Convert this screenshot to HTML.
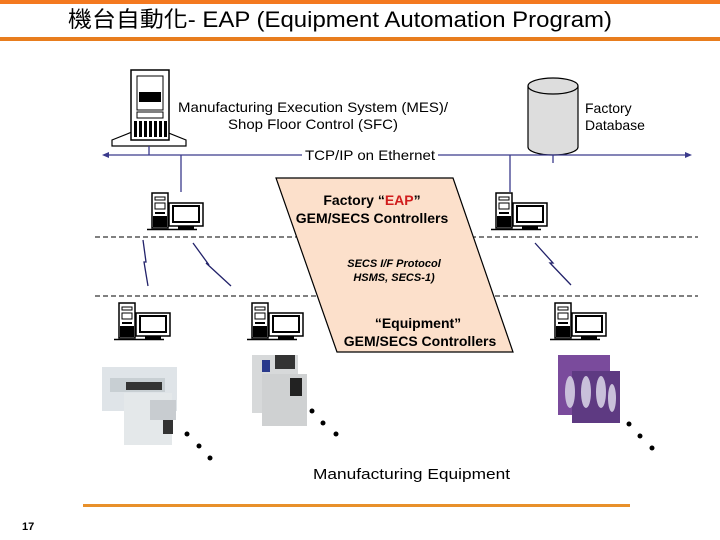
<!DOCTYPE html>
<html><head><meta charset="utf-8"><style>
html,body{margin:0;padding:0;background:#fff}
svg{display:block}
text{font-family:"Liberation Sans","Noto Sans CJK TC",sans-serif}
</style></head><body>
<svg width="720" height="540" viewBox="0 0 720 540" xmlns="http://www.w3.org/2000/svg">
<defs>
<g id="pc">
 <rect x="0" y="0" width="16" height="35" fill="#fff" stroke="#000" stroke-width="1.5"/>
 <rect x="3" y="4" width="10" height="3" fill="none" stroke="#000"/>
 <rect x="3" y="10" width="10" height="6" fill="none" stroke="#000"/>
 <rect x="3" y="19" width="10" height="2" fill="#000"/>
 <rect x="1" y="23" width="14" height="11" fill="#000"/>
 <rect x="17" y="10" width="34" height="23" fill="#fff" stroke="#000" stroke-width="1.5"/>
 <rect x="21" y="13" width="26" height="16" fill="#fff" stroke="#000" stroke-width="2"/>
 <rect x="26" y="33" width="16" height="3" fill="#000"/>
 <line x1="-5" y1="36.5" x2="45" y2="36.5" stroke="#000" stroke-width="1.5"/>
</g>
</defs>
<rect x="0" y="0" width="720" height="4" fill="#f47920"/>
<rect x="0" y="37" width="720" height="4" fill="#e87d1e"/>
<text x="68" y="27" font-size="22" fill="#000" textLength="544" lengthAdjust="spacingAndGlyphs">機台自動化- EAP (Equipment Automation Program)</text>

<!-- server -->
<g stroke="#000" fill="#fff">
 <polygon points="112,140 132,132 166,132 186,140 186,146 112,146" stroke-width="1.2"/>
 <rect x="131" y="70" width="38" height="70" stroke-width="1.5"/>
 <rect x="137" y="76" width="26" height="34"/>
 <rect x="137" y="112" width="26" height="6"/>
</g>
<rect x="139" y="92" width="22" height="10" fill="#000"/>
<g fill="#000"><rect x="134" y="121" width="3" height="16"/><rect x="139" y="121" width="3" height="16"/><rect x="144" y="121" width="3" height="16"/><rect x="149" y="121" width="3" height="16"/><rect x="154" y="121" width="3" height="16"/><rect x="159" y="121" width="3" height="16"/><rect x="164" y="121" width="3" height="16"/></g>
<text x="178" y="112" font-size="14" textLength="270" lengthAdjust="spacingAndGlyphs">Manufacturing Execution System (MES)/</text>
<text x="228" y="129" font-size="14" textLength="170" lengthAdjust="spacingAndGlyphs">Shop Floor Control (SFC)</text>

<!-- database -->
<path d="M528,86 L528,147 A25,8 0 0 0 578,147 L578,86" fill="#ddd" stroke="#000" stroke-width="1.2"/>
<ellipse cx="553" cy="86" rx="25" ry="8" fill="#ddd" stroke="#000" stroke-width="1.2"/>
<text x="585" y="113" font-size="14">Factory</text>
<text x="585" y="130" font-size="14">Database</text>

<!-- ethernet -->
<g stroke="#3a3a8c" stroke-width="1.3" fill="none">
 <line x1="108" y1="155" x2="302" y2="155"/>
 <line x1="438" y1="155" x2="686" y2="155"/>
 <line x1="149" y1="146" x2="149" y2="155"/>
 <line x1="181" y1="155" x2="181" y2="192"/>
 <line x1="553" y1="155" x2="553" y2="163"/>
 <line x1="510" y1="155" x2="510" y2="192"/>
</g>
<polygon points="102,155 109,152 109,158" fill="#3a3a8c"/>
<polygon points="692,155 685,152 685,158" fill="#3a3a8c"/>
<text x="305" y="160" font-size="14" textLength="130" lengthAdjust="spacingAndGlyphs">TCP/IP on Ethernet</text>

<!-- dashed lines -->
<line x1="95" y1="237" x2="698" y2="237" stroke="#000" stroke-dasharray="5,3"/>
<line x1="95" y1="296" x2="698" y2="296" stroke="#000" stroke-dasharray="5,3"/>

<!-- parallelogram -->
<polygon points="276,178 453,178 513,352 337,352" fill="#fce0cb" stroke="#000" stroke-width="1.2"/>
<text x="372" y="205" font-size="14" font-weight="bold" text-anchor="middle">Factory “<tspan fill="#d01c1c">EAP</tspan>”</text>
<text x="372" y="223" font-size="14" font-weight="bold" text-anchor="middle">GEM/SECS Controllers</text>
<text x="394" y="267" font-size="11" font-weight="bold" font-style="italic" text-anchor="middle">SECS I/F Protocol</text>
<text x="394" y="281" font-size="11" font-weight="bold" font-style="italic" text-anchor="middle">HSMS, SECS-1)</text>
<text x="418" y="328" font-size="14" font-weight="bold" text-anchor="middle">“Equipment”</text>
<text x="420" y="346" font-size="14" font-weight="bold" text-anchor="middle">GEM/SECS Controllers</text>

<!-- pcs -->
<use href="#pc" x="152" y="193"/>
<use href="#pc" x="496" y="193"/>
<use href="#pc" x="119" y="303"/>
<use href="#pc" x="252" y="303"/>
<use href="#pc" x="555" y="303"/>

<!-- lightning -->
<g stroke="#22226a" stroke-width="1.3" fill="#22226a">
 <polyline points="143,240 146,262 144,262 148,286" fill="none"/>
 <polyline points="193,243 209,265 206,263 231,286" fill="none"/>
 <polyline points="535,243 553,263 550,263 571,285" fill="none"/>
</g>

<!-- equipment images -->
<rect x="102" y="367" width="75" height="44" fill="#dfe4e8"/>
<rect x="110" y="378" width="55" height="14" fill="#c8cfd3"/>
<rect x="126" y="382" width="36" height="8" fill="#333"/>
<rect x="124" y="393" width="48" height="52" fill="#e4e8ea"/>
<rect x="150" y="400" width="26" height="20" fill="#c8ccd0"/>
<rect x="163" y="420" width="10" height="14" fill="#333"/>
<rect x="252" y="355" width="46" height="58" fill="#d7d9da"/>
<rect x="275" y="355" width="20" height="14" fill="#333"/>
<rect x="262" y="360" width="8" height="12" fill="#2a3a8c"/>
<rect x="262" y="374" width="45" height="52" fill="#cfd1d2"/>
<rect x="290" y="378" width="12" height="18" fill="#222"/>
<rect x="558" y="355" width="52" height="60" fill="#7a4b9c"/>
<rect x="572" y="371" width="48" height="52" fill="#5e3a82"/>
<g fill="#c9c0da"><ellipse cx="570" cy="392" rx="5" ry="16"/><ellipse cx="586" cy="392" rx="5" ry="16"/><ellipse cx="601" cy="392" rx="5" ry="16"/><ellipse cx="612" cy="398" rx="4" ry="14"/></g>

<!-- dots -->
<g fill="#000">
 <circle cx="187" cy="434" r="2.5"/><circle cx="199" cy="446" r="2.5"/><circle cx="210" cy="458" r="2.5"/>
 <circle cx="312" cy="411" r="2.5"/><circle cx="323" cy="423" r="2.5"/><circle cx="336" cy="434" r="2.5"/>
 <circle cx="629" cy="424" r="2.5"/><circle cx="640" cy="436" r="2.5"/><circle cx="652" cy="448" r="2.5"/>
</g>

<text x="313" y="479" font-size="15" textLength="197" lengthAdjust="spacingAndGlyphs">Manufacturing Equipment</text>
<rect x="83" y="504" width="547" height="3" fill="#e8902a"/>
<text x="22" y="530" font-size="11" font-weight="bold">17</text>
</svg>
</body></html>
